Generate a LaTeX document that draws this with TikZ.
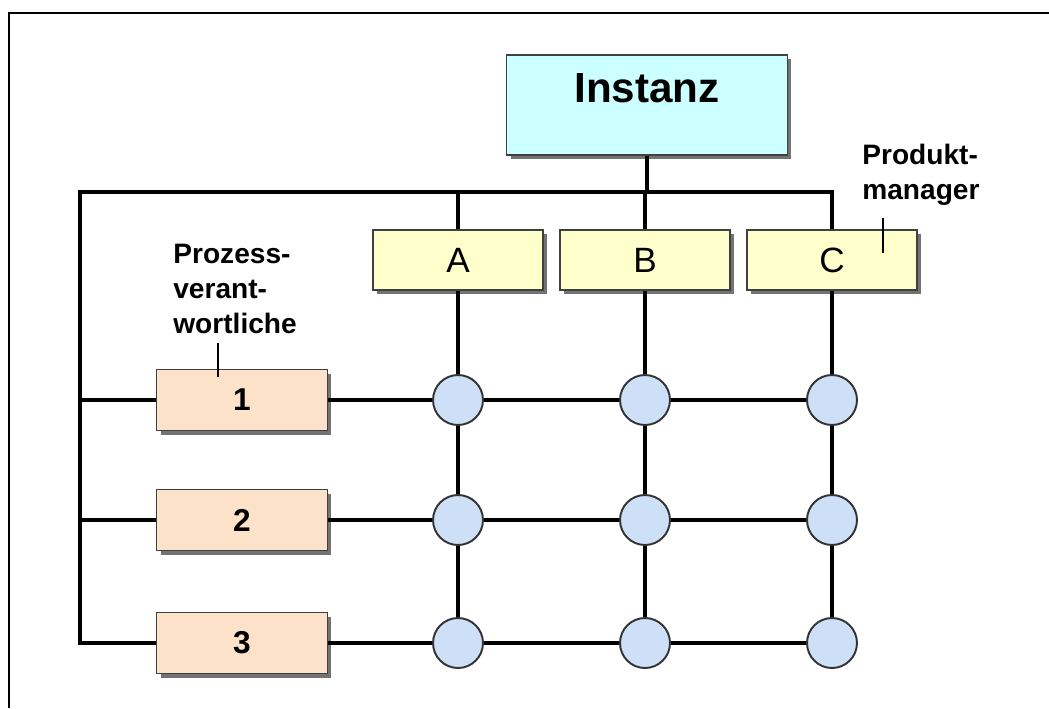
\documentclass[tikz,border=0pt]{standalone}
\usepackage{fontspec}
\setmainfont{Liberation Sans}
\usetikzlibrary{shadows}
\definecolor{instcyan}{RGB}{204,255,255}
\definecolor{prodyellow}{RGB}{255,255,204}
\definecolor{procpeach}{RGB}{252,226,200}
\definecolor{knotblue}{RGB}{206,224,247}

\begin{document}
\begin{tikzpicture}[
    x=0.02cm, y=-0.02cm,
    box/.style={draw=black!75, line width=0.7pt,
        drop shadow={shadow xshift=0.08cm, shadow yshift=-0.08cm, fill=black!55, opacity=1}},
    inst/.style={box, fill=instcyan, minimum width=5.62cm, minimum height=2cm,
        font=\fontsize{24}{28}\selectfont\bfseries, text height=0.61cm, text depth=0.7cm},
    prod/.style={box, fill=prodyellow, minimum width=3.4cm, minimum height=1.2cm, font=\fontsize{20}{24}\selectfont},
    proc/.style={box, fill=procpeach, minimum width=3.42cm, minimum height=1.22cm, font=\fontsize{18}{22}\selectfont\bfseries},
    knot/.style={circle, draw=black!80, line width=1.1pt, fill=knotblue, minimum size=1cm, inner sep=0pt},
    conn/.style={line width=2pt},
    tick/.style={line width=0.9pt},
    note/.style={align=left, anchor=north west, inner sep=0pt, font=\fontsize{16}{20}\selectfont\bfseries}
]
\useasboundingbox (0,0) rectangle (1049,708);

% Frame
\draw[line width=1.2pt] (1049,13) -- (9,13) -- (9,708);

% Instanz and product managers
\node[inst] (inst) at (647,105) {Instanz};
\foreach \c/\x in {A/458, B/645, C/832}
    \node[prod] (\c) at (\x,260) {\c};

% Process owners
\foreach \r/\y in {1/400, 2/520, 3/643}
    \node[proc] (p\r) at (242,\y) {\r};

% Matrix knots
\foreach \r/\y in {1/400, 2/520, 3/643}
    \foreach \c/\x in {A/458, B/645, C/832}
        \node[knot] (k\r-\c) at (\x,\y) {};

% Bus lines
\coordinate (busL) at (80,192);
\draw[conn] (C.north) -- (C.north |- busL) -- (busL) -- (busL |- p3) -- (p3.west);
\draw[conn] (inst.south) -- (inst.south |- busL);
\foreach \c in {A,B}
    \draw[conn] (\c.north |- busL) -- (\c.north);
\foreach \c in {A,B,C}
    \draw[conn] (\c) -- (k1-\c) -- (k2-\c) -- (k3-\c);
\foreach \r in {1,2}
    \draw[conn] (busL |- p\r) -- (p\r.west);
\foreach \r in {1,2,3}
    \draw[conn] (p\r) -- (k\r-A) -- (k\r-B) -- (k\r-C);

% Labels with ticks
\node[note] (pm) at (862,144) {Produkt-\\manager};
\coordinate (pmtop) at (883,218);
\coordinate (pmbot) at (883,253);
\draw[tick] (pmtop) -- (pmbot);

\node[note] (pv) at (173,244) {Prozess-\\verant-\\wortliche};
\coordinate (pvtop) at (218,343);
\coordinate (pvbot) at (218,377);
\draw[tick] (pvtop) -- (pvbot);
\end{tikzpicture}
\end{document}
